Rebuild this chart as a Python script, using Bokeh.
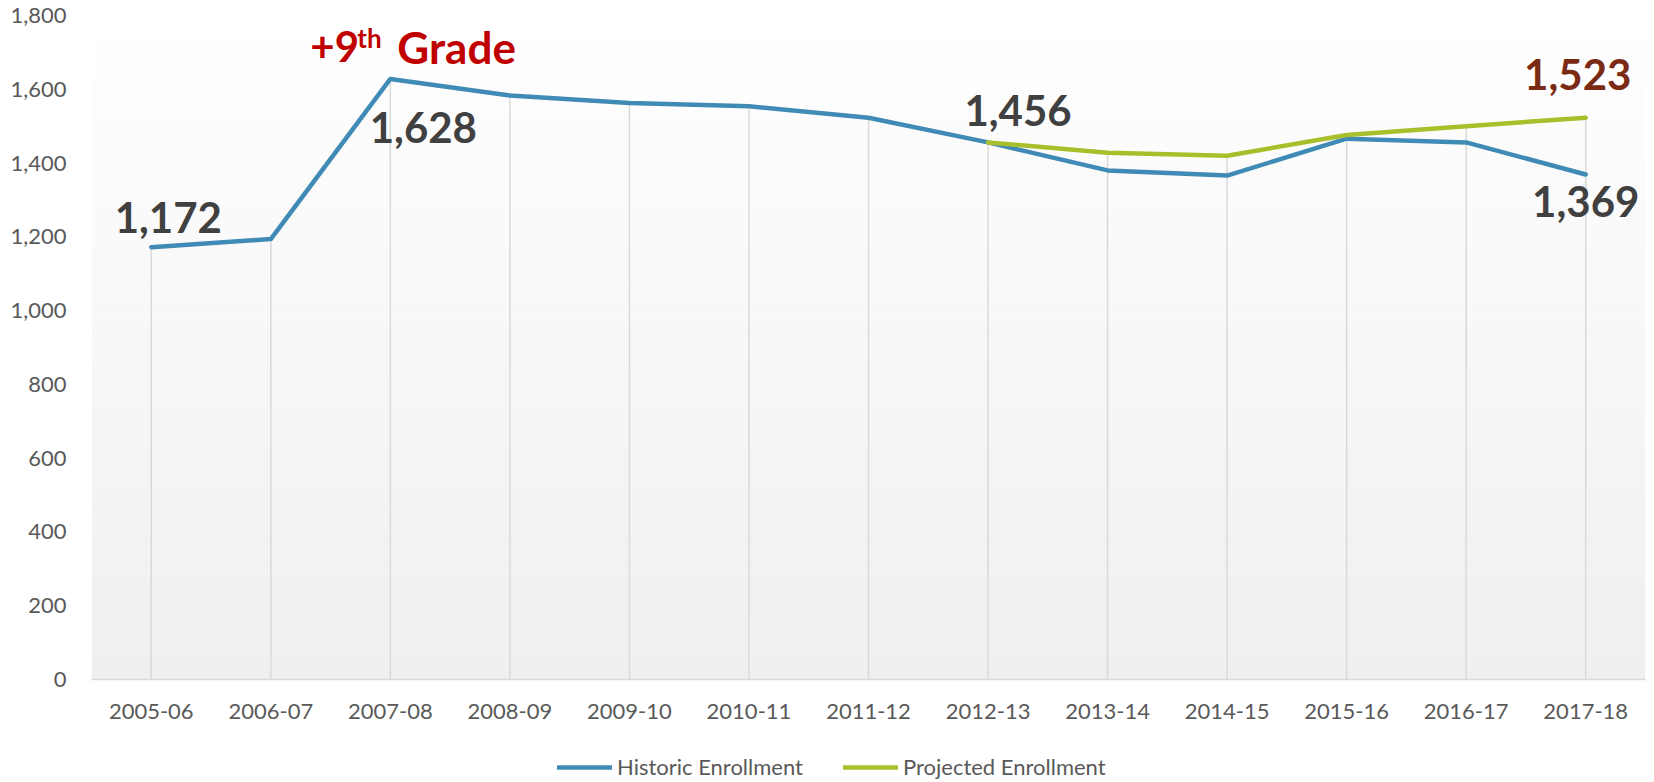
from bokeh.plotting import figure
from bokeh.layouts import column
from bokeh.models import (FactorRange, Range1d, FixedTicker, NumeralTickFormatter,
                          BoxAnnotation, Legend, LegendItem)
from bokeh.core.properties import value
from bokeh.embed import file_html
from bokeh.resources import INLINE

years = ["2005-06", "2006-07", "2007-08", "2008-09", "2009-10", "2010-11", "2011-12",
         "2012-13", "2013-14", "2014-15", "2015-16", "2016-17", "2017-18"]
historic = [1172, 1194, 1628, 1583, 1563, 1554, 1523, 1456, 1380, 1366, 1466, 1456, 1369]
proj_years = ["2012-13", "2013-14", "2014-15", "2015-16", "2016-17", "2017-18"]
projected = [1456, 1428, 1420, 1476, 1500, 1523]
y_ticks = [0, 200, 400, 600, 800, 1000, 1200, 1400, 1600, 1800]
series_names = ["Historic Enrollment", "Projected Enrollment"]

BLUE = "#408bb6"
GREEN = "#a9be2b"
FONT = "Lato"
W = 1654

p = figure(width=W, height=746, x_range=FactorRange(factors=years, range_padding=0),
           y_range=Range1d(0, 1800), output_backend="svg", toolbar_location=None,
           min_border_left=91, min_border_right=9, min_border_top=15, min_border_bottom=67)
p.outline_line_color = None
p.background_fill_color = "white"
p.border_fill_color = "white"

# gradient background (white top -> light gray bottom)
n = 60
c0 = (255, 255, 255)
c1 = (239, 239, 239)
for i in range(n):
    t = (i + 0.5) / n
    col = tuple(int(round(c0[k] + (c1[k] - c0[k]) * t)) for k in range(3))
    top = 1800 * (1 - i / n)
    bot = 1800 * (1 - (i + 1) / n)
    p.add_layout(BoxAnnotation(bottom=bot, top=top, fill_color="#%02x%02x%02x" % col,
                               fill_alpha=1, line_alpha=0, level="image"))

# drop lines
pmap = dict(zip(proj_years, projected))
drop_top = [max(h, pmap.get(y, 0)) for y, h in zip(years, historic)]
p.segment(x0=years, y0=[0] * len(years), x1=years, y1=drop_top,
          line_color="#d9d9d9", line_width=1.5)

p.line(years, historic, line_color=BLUE, line_width=4.5, line_join="round", line_cap="round")
p.line(proj_years, projected, line_color=GREEN, line_width=4.5, line_join="round", line_cap="round")

# axes
p.xgrid.visible = False
p.ygrid.visible = False
p.yaxis.ticker = FixedTicker(ticks=y_ticks)
p.yaxis.formatter = NumeralTickFormatter(format="0,0")
p.yaxis.axis_line_color = None
p.yaxis.major_tick_line_color = None
p.yaxis.minor_tick_line_color = None
p.yaxis.major_label_standoff = 19
p.xaxis.axis_line_color = "#d9d9d9"
p.xaxis.axis_line_width = 1.5
p.xaxis.major_tick_line_color = None
p.xaxis.minor_tick_line_color = None
p.xaxis.major_label_standoff = 18
for ax in (p.xaxis[0], p.yaxis[0]):
    ax.major_label_text_font = FONT
    ax.major_label_text_font_size = "22px"
    ax.major_label_text_color = "#595959"

# data labels
def lab(x, y, txt, color, dx, dy, size="42px", align="center"):
    p.text(x=[x], y=[y], text=[txt], x_offset=dx, y_offset=dy,
           text_font=value(FONT), text_font_style="bold", text_font_size=size,
           text_color=color, text_align=align, text_baseline="alphabetic")

DARK = "#404040"
lab(years[0], historic[0], f"{historic[0]:,}", DARK, 17, -30)
lab(years[2], historic[2], f"{historic[2]:,}", DARK, 33, 49)
lab(years[7], historic[7], f"{historic[7]:,}", DARK, 30, -32)
lab(years[12], historic[12], f"{historic[12]:,}", DARK, 0, 27)
lab(proj_years[-1], projected[-1], f"{projected[-1]:,}", "#7b2a14", -8, -43)

RED = "#c00000"
lab(years[2], historic[2], "+9", RED, -80, -32, align="left")
lab(years[2], historic[2], "th", RED, -33, -41, size="26px", align="left")
lab(years[2], historic[2], "Grade", RED, 7, -32, size="44px", align="left")

# legend strip below the chart
lg = figure(width=W, height=36, x_range=Range1d(0, 1), y_range=Range1d(0, 1),
            output_backend="svg", toolbar_location=None,
            min_border_left=0, min_border_right=0, min_border_top=0, min_border_bottom=0)
lg.axis.visible = False
lg.grid.visible = False
lg.outline_line_color = None
lh = lg.line([5, 6], [5, 5], line_color=BLUE, line_width=4.5, line_cap="round")
lp = lg.line([5, 6], [5, 5], line_color=GREEN, line_width=4.5, line_cap="round")
legend = Legend(items=[LegendItem(label=series_names[0], renderers=[lh]),
                       LegendItem(label=series_names[1], renderers=[lp])],
                orientation="horizontal", location=(466, 2),
                label_text_font=FONT, label_text_font_size="22px", label_text_color="#595959",
                glyph_width=55, glyph_height=20, label_height=20, label_standoff=5,
                spacing=40, padding=0, margin=0,
                background_fill_alpha=0, border_line_alpha=0)
lg.add_layout(legend, "center")

layout = column(p, lg, spacing=0)
open("out.html", "w").write(file_html(layout, INLINE))
